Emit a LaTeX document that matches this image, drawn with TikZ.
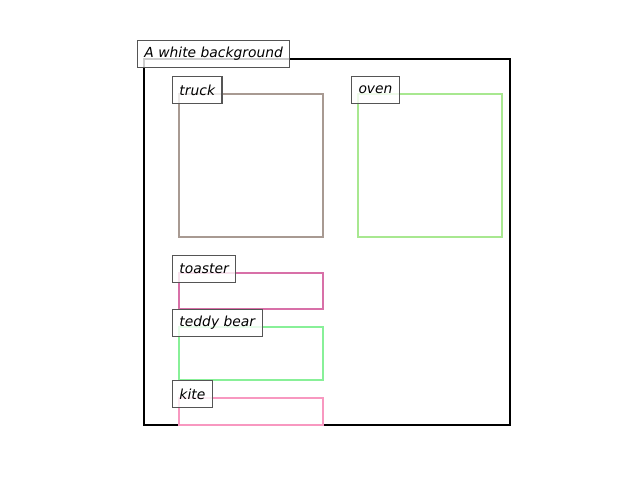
\documentclass[tikz,border=0pt]{standalone}
\usepackage{fontspec}
\setmainfont{DejaVu Sans}
\definecolor{ctruck}{HTML}{A89A92}
\definecolor{coven}{HTML}{A8E890}
\definecolor{ctoaster}{HTML}{D870A8}
\definecolor{cteddy}{HTML}{88F098}
\definecolor{ckite}{HTML}{F898C0}
\definecolor{edgegray}{HTML}{555555}
\tikzset{
  bbox/.style={line width=1.7pt},
  lbl/.style={draw=edgegray, line width=0.75pt, fill=white, fill opacity=0.8, text opacity=1,
    anchor=west, minimum height=28*0.72pt, inner xsep=7*0.72pt, inner ysep=0pt,
    font=\fontsize{10}{12}\selectfont\itshape}
}
\begin{document}
\begin{tikzpicture}[x=0.01in,y=-0.01in]
\useasboundingbox (0,0) rectangle (640,480);
\fill[white] (0,0) rectangle (640,480);
\draw[line width=1.7pt, black] (144,59) rectangle (510,425);
\draw[bbox, ctruck] (179,94) rectangle (323,237);
\draw[bbox, coven] (358,94) rectangle (502,237);
\draw[bbox, ctoaster] (179,273) rectangle (323,309);
\draw[bbox, cteddy] (179,327) rectangle (323,380);
\draw[bbox, ckite] (179,398) rectangle (323,425);
\node[lbl] (title) at (137,54) {A white background};
\node[lbl] (ltruck) at (172,90) {truck};
\node[lbl] (loven) at (351,90) {oven};
\node[lbl] (ltoaster) at (172,269) {toaster};
\node[lbl] (lteddy) at (172,323) {teddy bear};
\node[lbl] (lkite) at (172,394) {kite};
\end{tikzpicture}
\end{document}
